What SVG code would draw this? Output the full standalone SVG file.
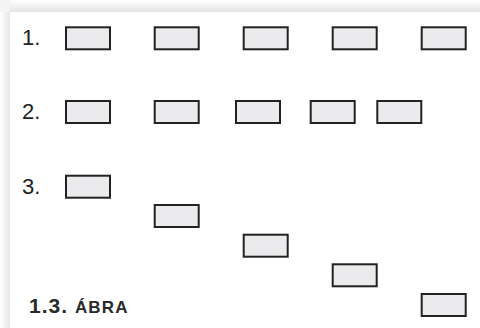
<svg xmlns="http://www.w3.org/2000/svg" width="480" height="328" viewBox="0 0 480 328">
<defs>
<linearGradient id="gt" x1="0" y1="0" x2="0" y2="1">
<stop offset="0" stop-color="#ffffff"/>
<stop offset="1" stop-color="#e4e4e4"/>
</linearGradient>
<linearGradient id="gl" x1="0" y1="0" x2="1" y2="0">
<stop offset="0" stop-color="#ffffff"/>
<stop offset="1" stop-color="#e6e6e6"/>
</linearGradient>
<style>
.b{fill:#ebebed;stroke:#222222;stroke-width:2}
.n{font-family:"Liberation Sans",Arial,sans-serif;font-size:22px;fill:#222222}
.c{font-family:"Liberation Sans",Arial,sans-serif;font-weight:bold;fill:#2a2a2a}
</style>
</defs>
<rect width="480" height="328" fill="#ffffff"/>
<rect x="10" y="0" width="470" height="12" fill="url(#gt)"/>
<rect x="0" y="12" width="10" height="316" fill="url(#gl)"/>
<rect x="0" y="0" width="10" height="12" fill="#f4f4f4"/>
<g id="labels">
<text class="n" x="22" y="45">1.</text>
<text class="n" x="22" y="119">2.</text>
<text class="n" x="22" y="194">3.</text>
<text class="c" x="29" y="313" font-size="21" letter-spacing="1">1.3. <tspan font-size="17" letter-spacing="1.2">ÁBRA</tspan></text>
</g>
<g id="row1">
<rect id="r1b1" class="b" x="66" y="27.3" width="44" height="22"/>
<rect id="r1b2" class="b" x="154.7" y="27.3" width="44" height="22"/>
<rect id="r1b3" class="b" x="243.7" y="27.3" width="44" height="22"/>
<rect id="r1b4" class="b" x="332.7" y="27.3" width="44" height="22"/>
<rect id="r1b5" class="b" x="421.7" y="27.3" width="44" height="22"/>
</g>
<g id="row2">
<rect id="r2b1" class="b" x="66" y="101" width="44" height="22"/>
<rect id="r2b2" class="b" x="154.7" y="101" width="44" height="22"/>
<rect id="r2b3" class="b" x="236" y="101" width="44" height="22"/>
<rect id="r2b4" class="b" x="310.7" y="101" width="44" height="22"/>
<rect id="r2b5" class="b" x="377.3" y="101" width="44" height="22"/>
</g>
<g id="row3">
<rect id="r3b1" class="b" x="66" y="175.7" width="44" height="22"/>
<rect id="r3b2" class="b" x="154.7" y="205" width="44" height="22"/>
<rect id="r3b3" class="b" x="243.7" y="234.7" width="44" height="22"/>
<rect id="r3b4" class="b" x="332.7" y="264.3" width="44" height="22"/>
<rect id="r3b5" class="b" x="421.7" y="294" width="44" height="22"/>
</g>
<g id="connectors"/>
</svg>
